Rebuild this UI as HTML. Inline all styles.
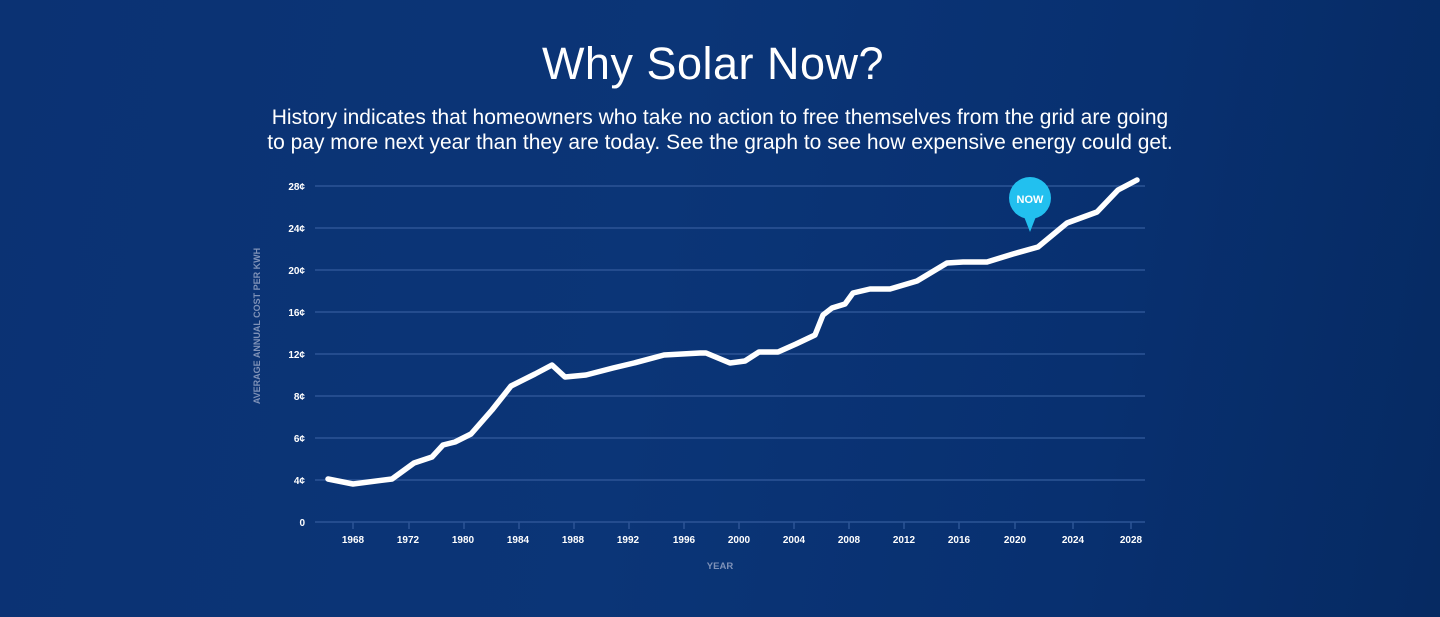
<!DOCTYPE html>
<html><head><meta charset="utf-8"><style>
html,body{margin:0;padding:0;}
body{width:1440px;height:617px;overflow:hidden;background:linear-gradient(100deg,#0b3273 0%,#0b3577 45%,#083070 75%,#062a62 100%);font-family:"Liberation Sans",sans-serif;position:relative;}
h1{position:absolute;left:0;width:1426px;top:38px;margin:0;text-align:center;color:#fff;font-weight:normal;font-size:45px;letter-spacing:0.5px;}
p{position:absolute;left:0;width:1440px;top:105px;margin:0;text-align:center;color:#fff;font-size:21px;line-height:25px;}
svg{position:absolute;left:0;top:0;}
</style></head><body>
<h1>Why Solar Now?</h1>
<p>History indicates that homeowners who take no action to free themselves from the grid are going<br>to pay more next year than they are today. See the graph to see how expensive energy could get.</p>
<svg width="1440" height="617" viewBox="0 0 1440 617">
<g stroke="#2c5596" stroke-width="1.5">
<line x1="315" y1="186" x2="1145" y2="186"/><line x1="315" y1="228" x2="1145" y2="228"/>
<line x1="315" y1="270" x2="1145" y2="270"/><line x1="315" y1="312" x2="1145" y2="312"/>
<line x1="315" y1="354" x2="1145" y2="354"/><line x1="315" y1="396" x2="1145" y2="396"/>
<line x1="315" y1="438" x2="1145" y2="438"/><line x1="315" y1="480" x2="1145" y2="480"/>
<line x1="315" y1="522" x2="1145" y2="522"/>
</g>
<g stroke="#2c5596" stroke-width="1.5">
<line x1="353" y1="522" x2="353" y2="529"/><line x1="409" y1="522" x2="409" y2="529"/><line x1="464" y1="522" x2="464" y2="529"/><line x1="519" y1="522" x2="519" y2="529"/><line x1="574" y1="522" x2="574" y2="529"/><line x1="629" y1="522" x2="629" y2="529"/><line x1="684" y1="522" x2="684" y2="529"/><line x1="739" y1="522" x2="739" y2="529"/><line x1="794" y1="522" x2="794" y2="529"/><line x1="849" y1="522" x2="849" y2="529"/><line x1="904" y1="522" x2="904" y2="529"/><line x1="959" y1="522" x2="959" y2="529"/><line x1="1015" y1="522" x2="1015" y2="529"/><line x1="1073" y1="522" x2="1073" y2="529"/><line x1="1131" y1="522" x2="1131" y2="529"/>
</g>
<g fill="#fff" font-size="10" font-weight="bold" text-anchor="end">
<text x="305" y="190">28¢</text><text x="305" y="232">24¢</text><text x="305" y="274">20¢</text><text x="305" y="316">16¢</text><text x="305" y="358">12¢</text><text x="305" y="400">8¢</text><text x="305" y="442">6¢</text><text x="305" y="484">4¢</text><text x="305" y="526">0</text>
</g>
<g fill="#fff" font-size="10" font-weight="bold" text-anchor="middle">
<text x="353" y="543">1968</text><text x="408" y="543">1972</text><text x="463" y="543">1980</text><text x="518" y="543">1984</text><text x="573" y="543">1988</text><text x="628" y="543">1992</text><text x="684" y="543">1996</text><text x="739" y="543">2000</text><text x="794" y="543">2004</text><text x="849" y="543">2008</text><text x="904" y="543">2012</text><text x="959" y="543">2016</text><text x="1015" y="543">2020</text><text x="1073" y="543">2024</text><text x="1131" y="543">2028</text>
</g>
<text x="720" y="569" fill="#7f92b8" font-size="9.5" font-weight="bold" text-anchor="middle">YEAR</text>
<text transform="translate(260,326) rotate(-90)" fill="#7f92b8" font-size="9" font-weight="bold" text-anchor="middle">AVERAGE ANNUAL COST PER KWH</text>
<polyline fill="none" stroke="#fff" stroke-width="5.5" stroke-linejoin="round" stroke-linecap="round" points="328,479 353,484 392,479 414,463 432,457 443,445 455,442 471,434 492,410 511,386 535,374 552,365 565,377 586,375 613,368 634,363 664,355 700,353 706,353 730,363 745,361 759,352 778,352 796,344 815,335 823,315 832,308 845,304 853,293 870,289 890,289 917,281 947,263 963,262 987,262 1013,254 1038,247 1067,223 1097,212 1118,190 1137,180"/>
<circle cx="1030" cy="198" r="21" fill="#22c0ef"/>
<polygon points="1023,214 1037,214 1030,232" fill="#22c0ef"/>
<text x="1030" y="203" fill="#fff" font-size="11" font-weight="bold" text-anchor="middle">NOW</text>
</svg>
</body></html>
